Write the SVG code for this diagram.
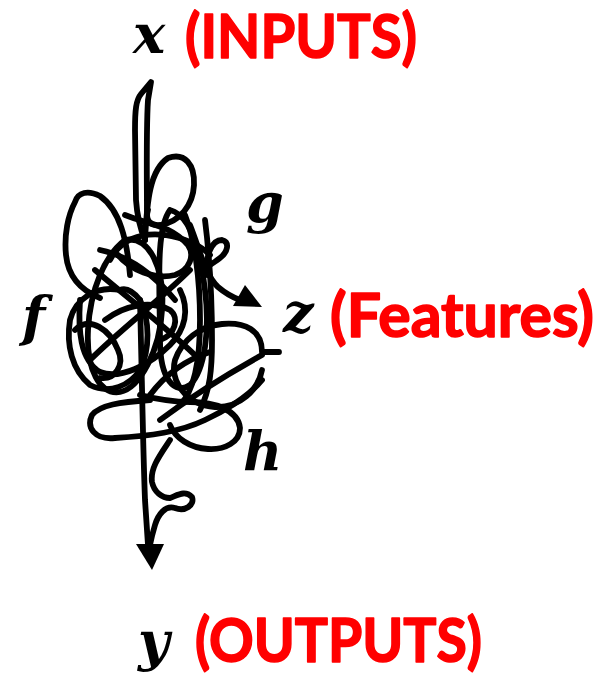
<svg xmlns="http://www.w3.org/2000/svg" width="611" height="677" viewBox="0 0 611 677">
<style>
.s{fill:none;stroke:#000;stroke-width:5.8;stroke-linecap:round;stroke-linejoin:round}
.head{fill:#000;stroke:none}
.m{font-family:"DejaVu Serif","Liberation Serif",serif;font-weight:bold;font-style:italic;font-size:54px;fill:#000}
.r{font-family:Lato,"Liberation Sans",sans-serif;font-weight:bold;font-size:61px;fill:#f00;stroke:#f00;stroke-width:1.6;stroke-linejoin:round}
</style>
<rect width="611" height="677" fill="#fff"/>

<!-- tangled mapping f / g / h -->
<g id="tangle">
  <!-- entry hairpin from x -->
  <path class="s" d="M147,222 C147,180 146,130 148,100 L151,82 L141,94 C136,100 135,110 135,130 L136,200 C137,215 140,228 145,240"/>
  <!-- upper loop -->
  <path class="s" d="M145,240 C147,200 150,170 168,158 C185,152 195,165 194,185 C193,205 180,222 160,225 C150,226 145,220 148,210"/>
  <!-- left outer loop -->
  <path class="s" d="M130,275 C127,240 120,210 100,196 C88,190 78,192 75,202 C68,215 64,235 66,255 C68,275 80,290 100,298"/>
  <!-- dense left cluster -->
  <path class="s" d="M120,290 C95,285 75,300 70,320 C66,345 72,370 90,385 C110,395 130,385 140,370 C150,350 150,320 140,300 C132,290 125,288 120,290"/>
  <path class="s" d="M125,240 C105,255 90,290 88,330 C86,370 100,395 120,392 C140,388 160,350 162,310 C165,270 150,235 125,240"/>
  <path class="s" d="M170,210 C190,215 200,250 205,290 C210,330 205,370 190,385 C175,395 160,380 160,340 C160,290 155,230 170,210"/>
  <path class="s" d="M80,300 C78,330 80,360 100,372 C120,380 150,365 170,345 C185,330 190,310 180,290"/>
  <path class="s" d="M205,220 C210,260 212,300 212,340 C212,370 210,390 200,410"/>
  <path class="s" d="M185,215 C195,240 200,280 200,320 C200,360 195,390 180,405"/>
  <path class="s" d="M95,270 C130,300 170,330 200,360"/>
  <path class="s" d="M90,360 C120,330 160,300 190,270"/>
  <path class="s" d="M100,250 C125,255 150,270 175,300"/>
  <path class="s" d="M110,260 C120,240 140,232 165,235 C185,238 200,245 210,255"/>
  <path class="s" d="M105,320 C125,305 150,300 170,310 C180,318 175,335 160,340"/>
  <path class="s" d="M125,215 C150,225 170,225 188,245 C195,255 190,270 175,275 C155,280 130,270 118,255"/>
  <path class="s" d="M75,330 C90,315 110,330 118,350 C125,365 115,380 100,378"/>
  <!-- arrow toward z -->
  <path class="s" d="M190,225 C200,250 205,275 218,287 C225,293 232,297 240,300"/>
  <path class="s" d="M207,275 C205,255 212,240 222,240 C230,242 228,252 220,258 C212,264 205,268 200,272"/>
  <!-- right loop with tail -->
  <path class="s" d="M279,352 L262,352 C262,330 245,322 222,324 C200,326 182,340 175,360 C170,380 185,405 215,407 C240,408 258,390 262,370"/>
  <path class="s" d="M262,355 C235,370 200,390 160,420"/>
  <path class="s" d="M150,395 C165,375 185,360 210,352"/>
  <!-- lower small loop -->
  <path class="s" d="M140,395 C160,400 175,402 190,402 C215,402 238,410 240,428 C240,442 225,450 208,449 C190,448 175,438 170,425"/>
  <!-- bottom left loop -->
  <path class="s" d="M150,400 C120,402 100,405 92,415 C86,428 95,440 115,438 C150,436 180,432 205,420 C230,408 250,395 262,380"/>
  <!-- long path down to y -->
  <path class="s" d="M140,300 C142,380 143,450 145,500 L148,545"/>
  <path class="s" d="M170,440 C160,455 150,468 152,482 C154,492 162,498 170,498 C178,495 185,490 192,497 C195,505 185,512 175,508 C165,505 158,515 155,525 C152,535 151,540 150,545"/>
  <polygon class="head" points="245,285 262,307 233,306"/>
  <polygon class="head" points="136,544 164,544 152,570"/>
</g>

<g id="label-x"><text class="m" x="133" y="53">x</text><text class="r" x="185" y="58" textLength="232" lengthAdjust="spacingAndGlyphs">(INPUTS)</text></g>
<g id="label-g"><text class="m" x="246" y="222">g</text></g>
<g id="label-f"><text class="m" x="22" y="335">f</text></g>
<g id="label-z"><text class="m" x="283" y="332">z</text><text class="r" x="330" y="337" textLength="264" lengthAdjust="spacingAndGlyphs">(Features)</text></g>
<g id="label-h"><text class="m" x="243" y="470">h</text></g>
<g id="label-y"><text class="m" x="138" y="660">y</text><text class="r" x="195" y="662" textLength="287" lengthAdjust="spacingAndGlyphs">(OUTPUTS)</text></g>
</svg>
